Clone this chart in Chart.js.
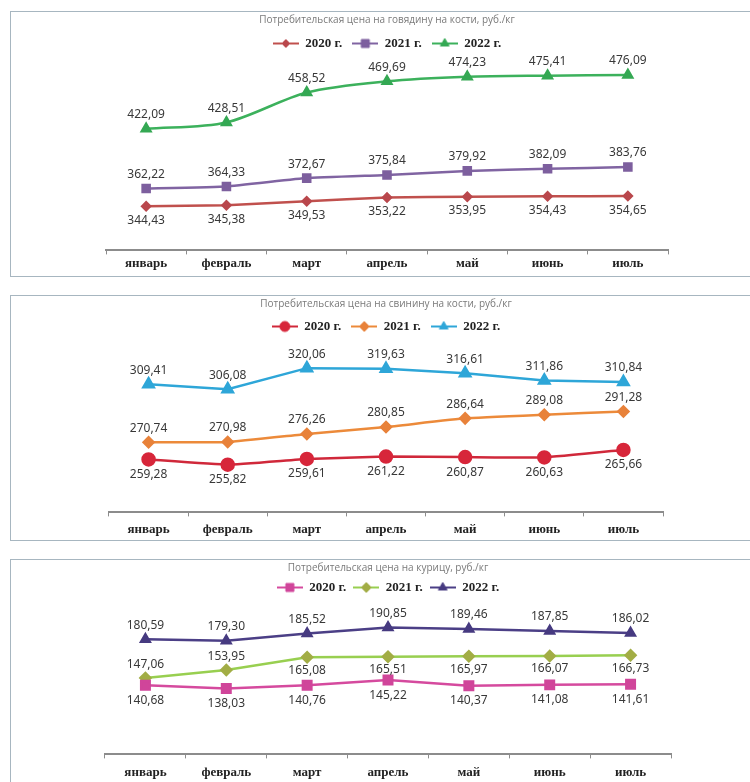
<!DOCTYPE html>
<html lang="ru">
<head>
<meta charset="utf-8">
<script src="https://cdn.jsdelivr.net/npm/chart.js"></script>
<style>
  html, body { margin: 0; padding: 0; background: #fff; overflow: hidden; width: 750px; height: 782px; }
  .box { position: absolute; left: 10px; width: 760px; box-sizing: border-box; border: 1px solid #a7b6c0; background: #fff; }
  .box canvas { display: block; }
</style>
</head>
<body>
<div class="box" style="top:11px; height:266px;"><canvas id="beef" width="758" height="264"></canvas></div>
<div class="box" style="top:295px; height:246px;"><canvas id="pork" width="758" height="246"></canvas></div>
<div class="box" style="top:559px; height:250px;"><canvas id="chicken" width="758" height="248"></canvas></div>
<script>
// месяцы и серии
const months = ['январь', 'февраль', 'март', 'апрель', 'май', 'июнь', 'июль'];
const years = ['2020 г.', '2021 г.', '2022 г.'];

const beef2020 = [344.43, 345.38, 349.53, 353.22, 353.95, 354.43, 354.65];
const beef2021 = [362.22, 364.33, 372.67, 375.84, 379.92, 382.09, 383.76];
const beef2022 = [422.09, 428.51, 458.52, 469.69, 474.23, 475.41, 476.09];

const pork2020 = [259.28, 255.82, 259.61, 261.22, 260.87, 260.63, 265.66];
const pork2021 = [270.74, 270.98, 276.26, 280.85, 286.64, 289.08, 291.28];
const pork2022 = [309.41, 306.08, 320.06, 319.63, 316.61, 311.86, 310.84];

const chicken2020 = [140.68, 138.03, 140.76, 145.22, 140.37, 141.08, 141.61];
const chicken2021 = [147.06, 153.95, 165.08, 165.51, 165.97, 166.07, 166.73];
const chicken2022 = [180.59, 179.30, 185.52, 190.85, 189.46, 187.85, 186.02];

// где подпись: 'a' над точкой, 'b' под точкой
const chicken2021Pos = ['a', 'a', 'b', 'b', 'b', 'b', 'b'];

const fmt = v => v.toFixed(2).replace('.', ',');

function markerPath(g, style, x, y, r) {
  g.beginPath();
  if (style === 'circle') {
    g.arc(x, y, r, 0, Math.PI * 2);
  } else if (style === 'rect') {
    g.rect(x - r * 0.8, y - r * 0.8, r * 1.6, r * 1.6);
  } else if (style === 'rectRot') {
    g.moveTo(x, y - r); g.lineTo(x + r, y); g.lineTo(x, y + r); g.lineTo(x - r, y);
  } else {
    g.moveTo(x, y - r); g.lineTo(x + r * 0.87, y + r * 0.5); g.lineTo(x - r * 0.87, y + r * 0.5);
  }
  g.closePath();
}

// значок легенды: линия с маркером
function legendIcon(line, fill, style, r) {
  const c = document.createElement('canvas');
  c.width = 26; c.height = 14;
  const g = c.getContext('2d');
  g.strokeStyle = line; g.lineWidth = 2;
  g.beginPath(); g.moveTo(0, 7); g.lineTo(26, 7); g.stroke();
  g.fillStyle = fill; g.strokeStyle = fill; g.lineWidth = 1;
  markerPath(g, style, 13, 7, r);
  g.fill(); g.stroke();
  return c;
}

const valueLabels = {
  id: 'valueLabels',
  afterDatasetsDraw(chart) {
    const ctx = chart.ctx;
    ctx.save();
    ctx.font = '12px "Noto Sans", sans-serif';
    ctx.fillStyle = '#383838';
    ctx.textAlign = 'center';
    ctx.textBaseline = 'middle';
    chart.data.datasets.forEach((ds, i) => {
      chart.getDatasetMeta(i).data.forEach((pt, j) => {
        const above = ds.labelPos[j] === 'a';
        const y = above ? pt.y - ds.labelGap : pt.y + ds.labelGap;
        ctx.fillText(fmt(ds.data[j]), pt.x, y);
      });
    });
    ctx.restore();
  }
};

function series(label, data, line, fill, style, r, pos, gap, tension = 0.1) {
  return {
    label, data,
    borderColor: line, backgroundColor: fill,
    pointBackgroundColor: fill, pointBorderColor: fill,
    pointStyle: style, pointRadius: r, pointHoverRadius: r,
    borderWidth: 2.5, tension,
    labelPos: Array.isArray(pos) ? pos : months.map(() => pos),
    labelGap: gap,
    icon: legendIcon(line, fill, style, Math.min(r, 5))
  };
}

function makeChart(id, title, datasets, yMin, yMax, pad, titleGap, legendPad, tickPad) {
  return new Chart(document.getElementById(id).getContext('2d'), {
    type: 'line',
    data: { labels: months, datasets },
    plugins: [valueLabels],
    options: {
      responsive: false,
      animation: false,
      devicePixelRatio: 1,
      layout: { padding: pad },
      plugins: {
        tooltip: { enabled: false },
        title: {
          display: true, text: title, color: '#7a7a7a',
          font: { family: '"Open Sans", "Noto Sans", sans-serif', size: 10, weight: 'normal' },
          padding: { top: 2, bottom: titleGap }
        },
        legend: {
          labels: {
            usePointStyle: true,
            pointStyleWidth: 26,
            boxHeight: 13,
            padding: legendPad,
            color: '#222',
            font: { family: '"Liberation Serif", serif', size: 13, weight: 'bold' },
            generateLabels(chart) {
              const items = Chart.defaults.plugins.legend.labels.generateLabels(chart);
              items.forEach(it => { it.pointStyle = chart.data.datasets[it.datasetIndex].icon; });
              return items;
            }
          }
        }
      },
      scales: {
        y: { display: false, min: yMin, max: yMax },
        x: {
          offset: true,
          grid: { display: true, offset: true, drawOnChartArea: false, drawTicks: true, tickLength: 4, color: '#8c8c8c' },
          border: { display: true, color: '#8c8c8c', width: 2 },
          ticks: { color: '#222', padding: tickPad, font: { family: '"Liberation Serif", serif', size: 13, weight: 'bold' } }
        }
      }
    }
  });
}

makeChart('beef', 'Потребительская цена на говядину на кости, руб./кг', [
  series(years[0], beef2020, '#c0504d', '#b9474c', 'rectRot', 4, 'b', 14),
  series(years[1], beef2021, '#8064a2', '#7d5f9e', 'rect', 5, 'a', 14),
  series(years[2], beef2022, '#3cb15c', '#34a853', 'triangle', 5, 'a', 14, 0.3)
], 300.2, 491.1, { left: 95, right: 101, top: 0, bottom: 4 }, 1, 10, 1);

makeChart('pork', 'Потребительская цена на свинину на кости, руб./кг', [
  series(years[0], pork2020, '#d0283a', '#d7263a', 'circle', 6, 'b', 15),
  series(years[1], pork2021, '#ec8a3a', '#e8823a', 'rectRot', 5, 'a', 14),
  series(years[2], pork2022, '#2ea6d8', '#2ea6d8', 'triangle', 6, 'a', 14, 0)
], 224.06, 336.8, { left: 98, right: 106, top: 0, bottom: 0 }, 0, 10, 5);

makeChart('chicken', 'Потребительская цена на курицу, руб./кг', [
  series(years[0], chicken2020, '#d54a9e', '#d0459a', 'rect', 6, 'b', 15, 0),
  series(years[1], chicken2021, '#98cf50', '#a2ad45', 'rectRot', 5, chicken2021Pos, 13, 0),
  series(years[2], chicken2022, '#4b3f86', '#463a80', 'triangle', 5, 'a', 14, 0)
], 80.8, 211.2, { left: 94, right: 98, top: 0, bottom: 22 }, 0, 7, 6);
</script>
</body>
</html>
